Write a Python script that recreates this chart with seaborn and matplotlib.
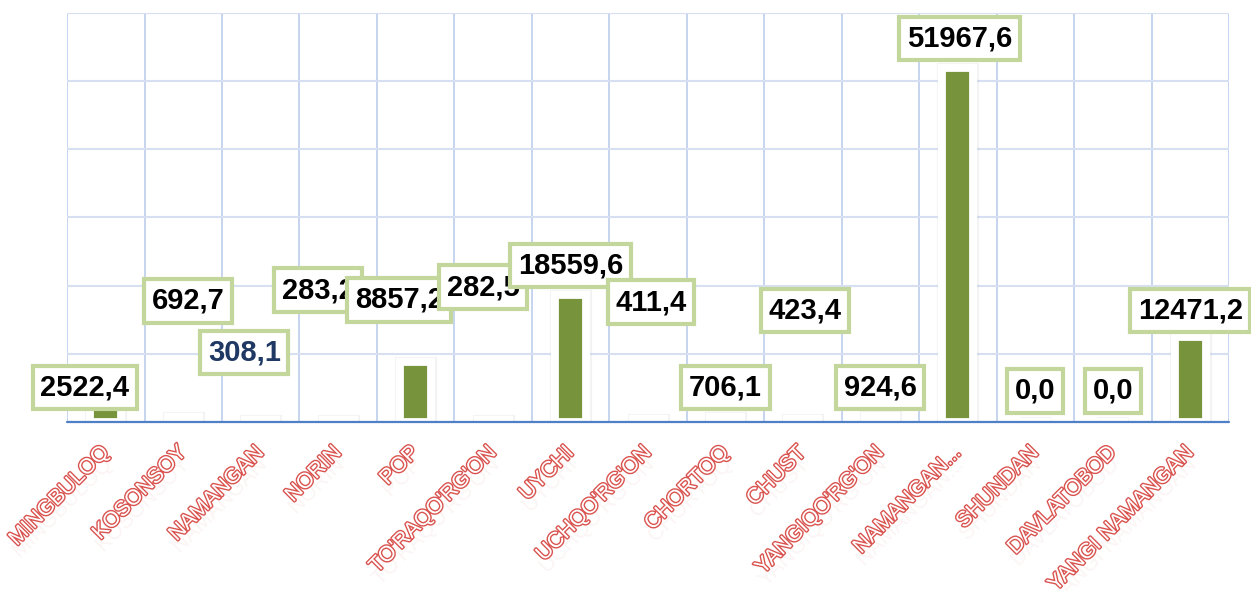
import matplotlib
matplotlib.use("Agg")
import matplotlib.pyplot as plt
import matplotlib.patheffects as pe
import seaborn as sns
import pandas as pd

# district values
districts = ["MINGBULOQ", "KOSONSOY", "NAMANGAN", "NORIN", "POP", "TO'RAQO'RG'ON",
             "UYCHI", "UCHQO'RG'ON", "CHORTOQ", "CHUST", "YANGIQO'RG'ON",
             "NAMANGAN...", "SHUNDAN", "DAVLATOBOD", "YANGI NAMANGAN"]
values = [2522.4, 692.7, 308.1, 283.2, 8857.2, 282.5, 18559.6, 411.4,
          706.1, 423.4, 924.6, 51967.6, 0.0, 0.0, 12471.2]

# where the (hand-moved) data label boxes sit
label_y = [5100, 17750, 10250, 19350, 17900, 19800, 23000, 17600,
           5100, 16400, 5100, 56300, 4550, 4550, 16400]
label_dx = [-0.27, 0.06, -0.21, -0.26, -0.21, -0.13, 0.0, 0.04,
            0.0, 0.03, 0.0, 0.02, 0.0, 0.0, 0.0]
label_color = ["black"] * 15
label_color[2] = "#1f3864"

df = pd.DataFrame({"district": districts, "value": values})

sns.set_style("white")
plt.rcParams["font.family"] = ["Liberation Sans", "DejaVu Sans"]

fig = plt.figure(figsize=(12.51, 5.91), dpi=100)
ax = fig.add_axes([0.0536, 0.286, 0.9288, 0.692])

sns.barplot(data=df, x="district", y="value", color="#77933c", saturation=1,
            width=0.4, ax=ax, zorder=3)

# white frame inside the bar + soft grey halo, like the Excel bar style
for bar in ax.patches:
    bar.set_path_effects([pe.Stroke(linewidth=8, foreground="#999999", alpha=0.12),
                          pe.Stroke(linewidth=6, foreground="white"),
                          pe.Normal(),
                          pe.Stroke(linewidth=5.6, foreground="white")])

ax.set_ylim(0, 60000)
ax.set_xlim(-0.5, len(districts) - 0.5)
ax.set_yticks(range(0, 60001, 10000))
ax.set_xticks([i - 0.5 for i in range(len(districts) + 1)], minor=True)
ax.yaxis.grid(True, color="#d6e0f2", lw=1.5, zorder=0)
ax.xaxis.grid(True, which="minor", color="#bccdec", lw=1.2, zorder=0)
ax.xaxis.grid(False, which="major")
ax.set_axisbelow(True)
ax.tick_params(axis="y", length=0, labelleft=False)
ax.tick_params(axis="x", which="both", length=0, pad=20)
for s in ax.spines.values():
    s.set_visible(False)
ax.axhline(0, color="#4f7fc4", lw=1.6, zorder=5, clip_on=False)
ax.set_xlabel("")
ax.set_ylabel("")

ax.set_xticks(range(len(districts)))
ax.set_xticklabels(districts, rotation=45, ha="right", va="center",
                   rotation_mode="anchor", fontsize=15.5, color="white")
for t in ax.get_xticklabels():
    t.set_path_effects([pe.withSimplePatchShadow(offset=(2, -9), shadow_rgbFace="#eab0b0", alpha=0.12),
                        pe.Stroke(linewidth=2.0, foreground="#d9534f"),
                        pe.Normal()])

for i, v in enumerate(values):
    ax.text(i + label_dx[i], label_y[i], f"{v:.1f}".replace(".", ","),
            ha="center", va="center", fontsize=21, fontweight="bold",
            color=label_color[i], zorder=10,
            bbox=dict(boxstyle="square,pad=0.26", fc="white", ec="#c3d69b", lw=3))

fig.savefig("out.png", dpi=100)
